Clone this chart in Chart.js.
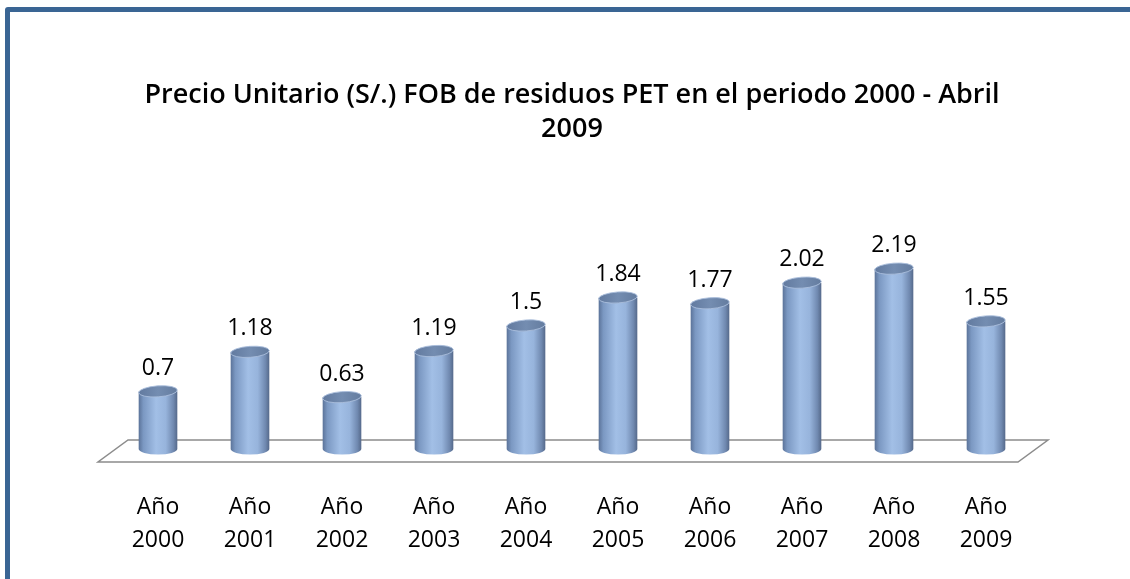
<!DOCTYPE html>
<html>
<head>
<meta charset="utf-8">
<script src="https://cdn.jsdelivr.net/npm/chart.js@4.4.0/dist/chart.umd.min.js"></script>
<style>
    html, body { margin: 0; padding: 0; background: #fff; overflow: hidden; }
    #wrap { position: absolute; left: 0; top: 0; width: 1130px; height: 579px; }
    #frame {
        position: absolute; left: 5px; top: 7px; width: 1200px; height: 700px;
        border: 5px solid #3a6594; border-radius: 3px; box-sizing: border-box;
    }
</style>
</head>
<body>
<div id="frame"></div>
<div id="wrap"><canvas id="priceChart"></canvas></div>
<script>
// Data
const years = ['2000', '2001', '2002', '2003', '2004', '2005', '2006', '2007', '2008', '2009'];
const prices = [0.7, 1.18, 0.63, 1.19, 1.5, 1.84, 1.77, 2.02, 2.19, 1.55];
const titleLines = ['Precio Unitario (S/.) FOB de residuos PET en el periodo 2000 - Abril', '2009'];

const labelFont = { family: "'Open Sans', sans-serif", size: 23, lineHeight: 1.43 };

// floor plane under the bars
const floorPlugin = {
    id: 'floor',
    beforeDatasetsDraw(chart) {
        const ctx = chart.ctx;
        const area = chart.chartArea;
        const y0 = chart.scales.y.getPixelForValue(0);
        ctx.save();
        ctx.beginPath();
        ctx.moveTo(area.left + 16, y0 - 9);
        ctx.lineTo(area.right + 16, y0 - 9);
        ctx.lineTo(area.right - 14, y0 + 13);
        ctx.lineTo(area.left - 14, y0 + 13);
        ctx.closePath();
        ctx.fillStyle = '#ffffff';
        ctx.fill();
        ctx.strokeStyle = '#8c8c8c';
        ctx.lineWidth = 1.5;
        ctx.stroke();
        ctx.restore();
    }
};

// cylinders + value labels
const cylinderPlugin = {
    id: 'cylinders',
    afterDatasetsDraw(chart) {
        const ctx = chart.ctx;
        const meta = chart.getDatasetMeta(0);
        meta.data.forEach((bar, i) => {
            const cx = bar.x;
            const rx = bar.width / 2;
            const ry = 5.5;
            const top = bar.y;
            const base = bar.base;

            ctx.save();
            const g = ctx.createLinearGradient(cx - rx, 0, cx + rx, 0);
            g.addColorStop(0, '#5b7399');
            g.addColorStop(0.12, '#7b98c2');
            g.addColorStop(0.45, '#a2bfe6');
            g.addColorStop(0.7, '#97b4dc');
            g.addColorStop(0.9, '#7089b0');
            g.addColorStop(1, '#55698a');
            ctx.beginPath();
            ctx.moveTo(cx - rx, top);
            ctx.lineTo(cx - rx, base);
            ctx.ellipse(cx, base, rx, ry, 0, Math.PI, 0, true);
            ctx.lineTo(cx + rx, top);
            ctx.closePath();
            ctx.fillStyle = g;
            ctx.fill();

            // top cap
            const tg = ctx.createLinearGradient(cx - rx, top, cx + rx, top);
            tg.addColorStop(0, '#627a9f');
            tg.addColorStop(0.5, '#748db1');
            tg.addColorStop(1, '#647c9f');
            ctx.beginPath();
            ctx.ellipse(cx, top, rx, ry, -0.07, 0, Math.PI * 2);
            ctx.fillStyle = tg;
            ctx.fill();
            ctx.strokeStyle = 'rgba(170,190,220,0.9)';
            ctx.lineWidth = 1;
            ctx.stroke();

            // value label
            ctx.fillStyle = '#000';
            ctx.font = labelFont.size + 'px ' + labelFont.family;
            ctx.textAlign = 'center';
            ctx.textBaseline = 'middle';
            ctx.fillText(String(prices[i]), cx, top - 23);
            ctx.restore();
        });
    }
};

const ctx = document.getElementById('priceChart').getContext('2d');
const priceChart = new Chart(ctx, {
    type: 'bar',
    data: {
        labels: years.map(y => ['Año', y]),
        datasets: [{
            data: prices,
            backgroundColor: 'rgba(0,0,0,0)',
            borderWidth: 0,
            categoryPercentage: 1,
            barPercentage: 0.42
        }]
    },
    options: {
        responsive: true,
        maintainAspectRatio: false,
        animation: false,
        layout: {
            padding: { top: 79, left: 112, right: 98, bottom: 25 }
        },
        plugins: {
            legend: { display: false },
            tooltip: { enabled: false },
            title: {
                display: true,
                text: titleLines,
                color: '#000',
                font: { family: "'Open Sans', sans-serif", size: 27, weight: '600', lineHeight: 1.24 },
                padding: { top: 0, bottom: 56 }
            }
        },
        scales: {
            y: {
                display: false,
                min: 0,
                max: 3
            },
            x: {
                grid: { display: false, drawTicks: false },
                border: { display: false },
                afterFit(scale) { scale.height = 105; },
                ticks: {
                    color: '#000',
                    font: labelFont,
                    padding: 42,
                    maxRotation: 0,
                    autoSkip: false
                }
            }
        }
    },
    plugins: [floorPlugin, cylinderPlugin]
});
</script>
</body>
</html>
